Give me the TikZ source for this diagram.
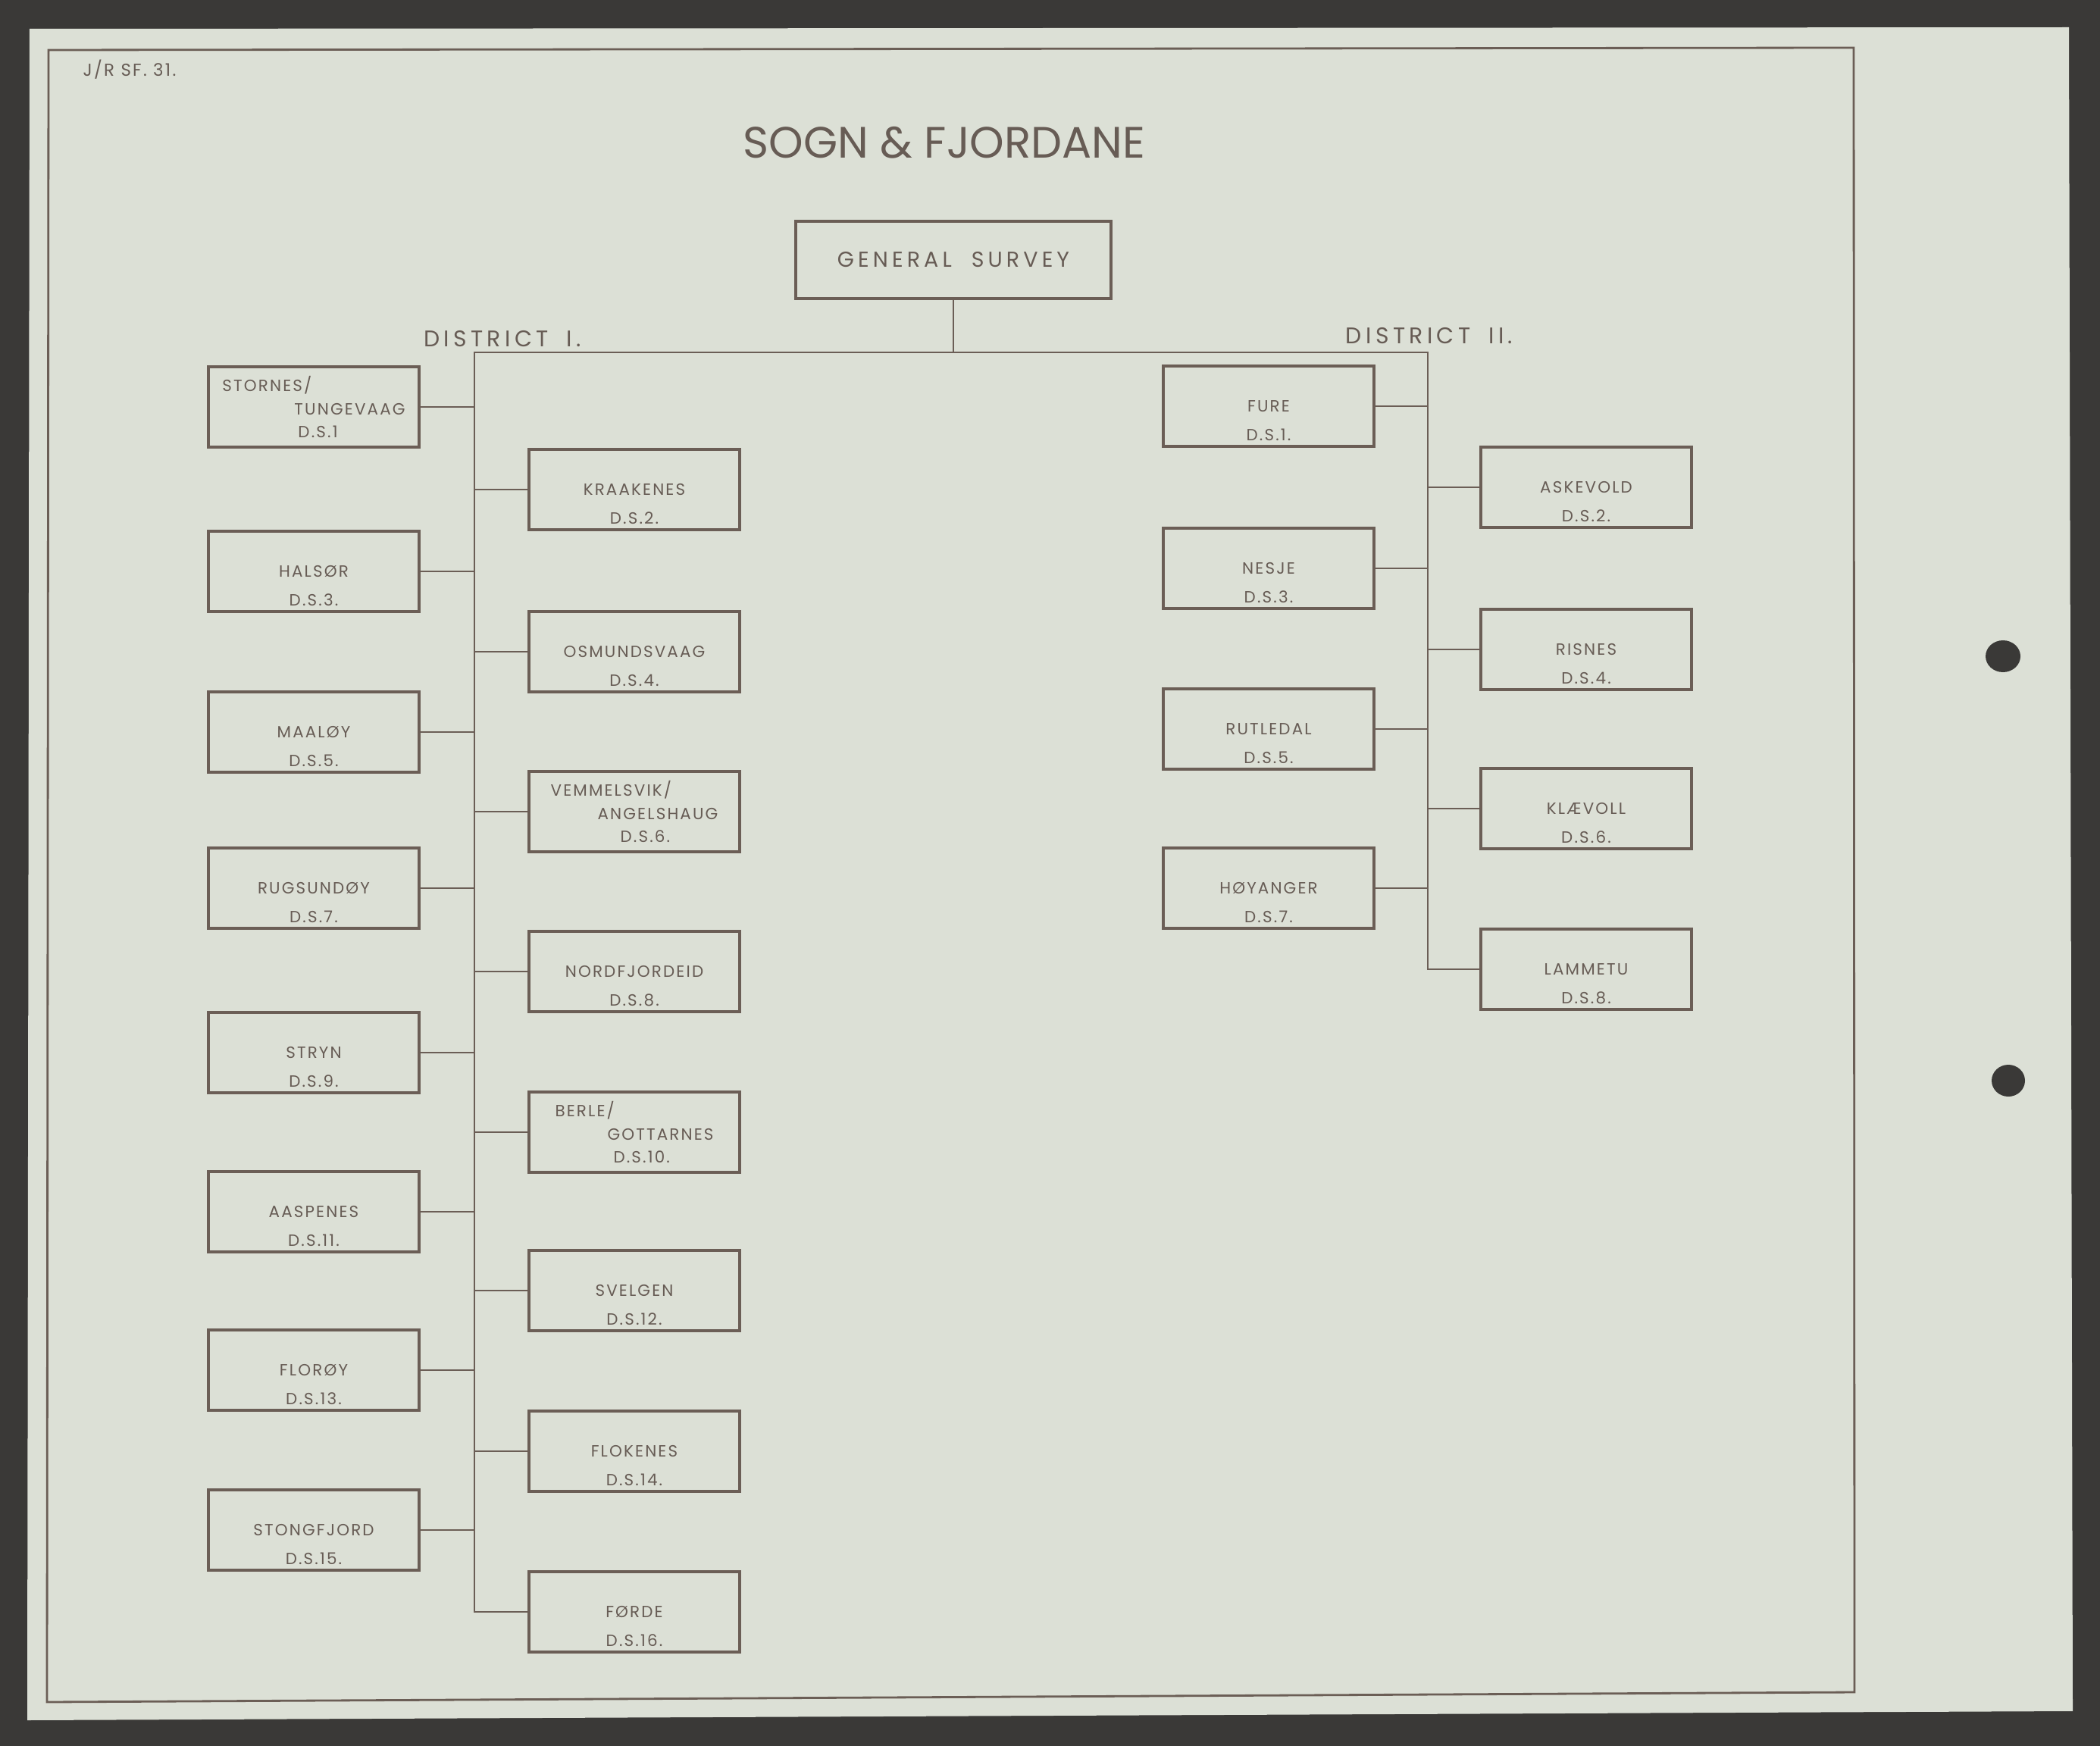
\documentclass[tikz,border=0pt]{standalone}
\usepackage{fontspec}
\setmainfont{Poppins}
\newfontfamily\boxfont[LetterSpace=10]{Poppins}
\newfontfamily\widefont[LetterSpace=18]{Poppins}
\usetikzlibrary{positioning}

\definecolor{board}{HTML}{3A3937}
\definecolor{paper}{HTML}{DCE0D6}
\definecolor{ink}{HTML}{6B5E56}
\definecolor{inktext}{HTML}{675C55}

\begin{document}
\begin{tikzpicture}[
		myline/.style={draw=ink, line width=0.7pt},
		box/.style={draw=ink, line width=1.2pt, minimum width=2.78cm, minimum height=1.06cm, inner sep=0pt, text=inktext, align=center, font=\boxfont\fontsize{6.1}{8.6}\selectfont},
		dsnum/.style={inner sep=0pt, text=inktext, font=\boxfont\fontsize{6.1}{8.6}\selectfont},
		district/.style={inner sep=0pt, text=inktext, font=\widefont\fontsize{8.5}{10}\selectfont}]
		
		\useasboundingbox (0,0) rectangle (27.71,-23.04);
		\fill[board] (0,0) rectangle (27.71,-23.04);
		\fill[paper] (0.39,-0.38) -- (27.30,-0.36) -- (27.35,-22.58) -- (0.36,-22.70) -- cycle;
		\draw[ink, line width=0.8pt] (0.64,-0.66) -- (24.46,-0.63) -- (24.47,-22.33) -- (0.62,-22.46) -- cycle;
		\fill[board] (26.43,-8.66) ellipse (0.23 and 0.21);
		\fill[board] (26.50,-14.26) ellipse (0.22 and 0.21);
		
		\node[dsnum, font=\boxfont\fontsize{6.5}{8}\selectfont] at (1.71,-0.92) (ref) {J/R SF. 31.};
		\node[inner sep=0pt, text=inktext, font=\fontsize{16.5}{18}\selectfont] at (12.46,-1.88) (title) {SOGN \& FJORDANE};
		
		\node[box, minimum width=4.16cm, minimum height=1.02cm, font=\widefont\fontsize{8.1}{10}\selectfont] at (12.58,-3.43) (survey) {GENERAL\hspace{2.6mm}SURVEY};
		\coordinate (d1top) at (6.26,-4.65);
		\coordinate (d2top) at (18.84,-4.65);
		\node[district] at (6.63,-4.47) (dist1) {DISTRICT\hspace{2.4mm}I.};
		\node[district] at (18.86,-4.43) (dist2) {DISTRICT\hspace{2.4mm}II.};
		
		% district I, left column
		\node[box, align=left] at (4.14,-5.37) (stornes) {STORNES/\\\hspace*{9.5mm}TUNGEVAAG\\\hspace*{10mm}D.S.1};
		\node[box] at (4.14,-7.54) (halsor) {HALSØR};
		\node[dsnum, above=0.85mm of halsor.south] (halsor-ds) {D.S.3.};
		\node[box] at (4.14,-9.66) (maaloy) {MAALØY};
		\node[dsnum, above=0.85mm of maaloy.south] (maaloy-ds) {D.S.5.};
		\node[box] at (4.14,-11.72) (rugsundoy) {RUGSUNDØY};
		\node[dsnum, above=0.85mm of rugsundoy.south] (rugsundoy-ds) {D.S.7.};
		\node[box] at (4.14,-13.89) (stryn) {STRYN};
		\node[dsnum, above=0.85mm of stryn.south] (stryn-ds) {D.S.9.};
		\node[box] at (4.14,-15.99) (aaspenes) {AASPENES};
		\node[dsnum, above=0.85mm of aaspenes.south] (aaspenes-ds) {D.S.11.};
		\node[box] at (4.14,-18.08) (floroy) {FLORØY};
		\node[dsnum, above=0.85mm of floroy.south] (floroy-ds) {D.S.13.};
		\node[box] at (4.14,-20.19) (stongfjord) {STONGFJORD};
		\node[dsnum, above=0.85mm of stongfjord.south] (stongfjord-ds) {D.S.15.};
		
		% district I, right column
		\node[box] at (8.37,-6.46) (kraakenes) {KRAAKENES};
		\node[dsnum, above=0.85mm of kraakenes.south] (kraakenes-ds) {D.S.2.};
		\node[box] at (8.37,-8.60) (osmundsvaag) {OSMUNDSVAAG};
		\node[dsnum, above=0.85mm of osmundsvaag.south] (osmundsvaag-ds) {D.S.4.};
		\node[box, align=left] at (8.37,-10.71) (vemmelsvik) {VEMMELSVIK/\\\hspace*{6.2mm}ANGELSHAUG\\\hspace*{9.2mm}D.S.6.};
		\node[box] at (8.37,-12.82) (nordfjordeid) {NORDFJORDEID};
		\node[dsnum, above=0.85mm of nordfjordeid.south] (nordfjordeid-ds) {D.S.8.};
		\node[box, align=left] at (8.37,-14.94) (berle) {BERLE/\\\hspace*{6.9mm}GOTTARNES\\\hspace*{7.7mm}D.S.10.};
		\node[box] at (8.37,-17.03) (svelgen) {SVELGEN};
		\node[dsnum, above=0.85mm of svelgen.south] (svelgen-ds) {D.S.12.};
		\node[box] at (8.37,-19.15) (flokenes) {FLOKENES};
		\node[dsnum, above=0.85mm of flokenes.south] (flokenes-ds) {D.S.14.};
		\node[box] at (8.37,-21.27) (forde) {FØRDE};
		\node[dsnum, above=0.85mm of forde.south] (forde-ds) {D.S.16.};
		
		% district II
		\node[box] at (16.74,-5.36) (fure) {FURE};
		\node[dsnum, above=0.85mm of fure.south] (fure-ds) {D.S.1.};
		\node[box] at (16.74,-7.50) (nesje) {NESJE};
		\node[dsnum, above=0.85mm of nesje.south] (nesje-ds) {D.S.3.};
		\node[box] at (16.74,-9.62) (rutledal) {RUTLEDAL};
		\node[dsnum, above=0.85mm of rutledal.south] (rutledal-ds) {D.S.5.};
		\node[box] at (16.74,-11.72) (hoyanger) {HØYANGER};
		\node[dsnum, above=0.85mm of hoyanger.south] (hoyanger-ds) {D.S.7.};
		\node[box] at (20.93,-6.43) (askevold) {ASKEVOLD};
		\node[dsnum, above=0.85mm of askevold.south] (askevold-ds) {D.S.2.};
		\node[box] at (20.93,-8.57) (risnes) {RISNES};
		\node[dsnum, above=0.85mm of risnes.south] (risnes-ds) {D.S.4.};
		\node[box] at (20.93,-10.67) (klaevoll) {KLÆVOLL};
		\node[dsnum, above=0.85mm of klaevoll.south] (klaevoll-ds) {D.S.6.};
		\node[box] at (20.93,-12.79) (lammetu) {LAMMETU};
		\node[dsnum, above=0.85mm of lammetu.south] (lammetu-ds) {D.S.8.};
		
		% trunk lines
		\draw[myline] (survey) -- (survey |- d1top);
		\draw[myline] (forde) -| (d1top) -- (d2top) |- (lammetu);
		
		\draw[myline] (stornes) -- (stornes -| d1top);
		\draw[myline] (halsor) -- (halsor -| d1top);
		\draw[myline] (maaloy) -- (maaloy -| d1top);
		\draw[myline] (rugsundoy) -- (rugsundoy -| d1top);
		\draw[myline] (stryn) -- (stryn -| d1top);
		\draw[myline] (aaspenes) -- (aaspenes -| d1top);
		\draw[myline] (floroy) -- (floroy -| d1top);
		\draw[myline] (stongfjord) -- (stongfjord -| d1top);
		\draw[myline] (kraakenes) -- (kraakenes -| d1top);
		\draw[myline] (osmundsvaag) -- (osmundsvaag -| d1top);
		\draw[myline] (vemmelsvik) -- (vemmelsvik -| d1top);
		\draw[myline] (nordfjordeid) -- (nordfjordeid -| d1top);
		\draw[myline] (berle) -- (berle -| d1top);
		\draw[myline] (svelgen) -- (svelgen -| d1top);
		\draw[myline] (flokenes) -- (flokenes -| d1top);
		
		\draw[myline] (fure) -- (fure -| d2top);
		\draw[myline] (nesje) -- (nesje -| d2top);
		\draw[myline] (rutledal) -- (rutledal -| d2top);
		\draw[myline] (hoyanger) -- (hoyanger -| d2top);
		\draw[myline] (askevold) -- (askevold -| d2top);
		\draw[myline] (risnes) -- (risnes -| d2top);
		\draw[myline] (klaevoll) -- (klaevoll -| d2top);
	\end{tikzpicture}
\end{document}
